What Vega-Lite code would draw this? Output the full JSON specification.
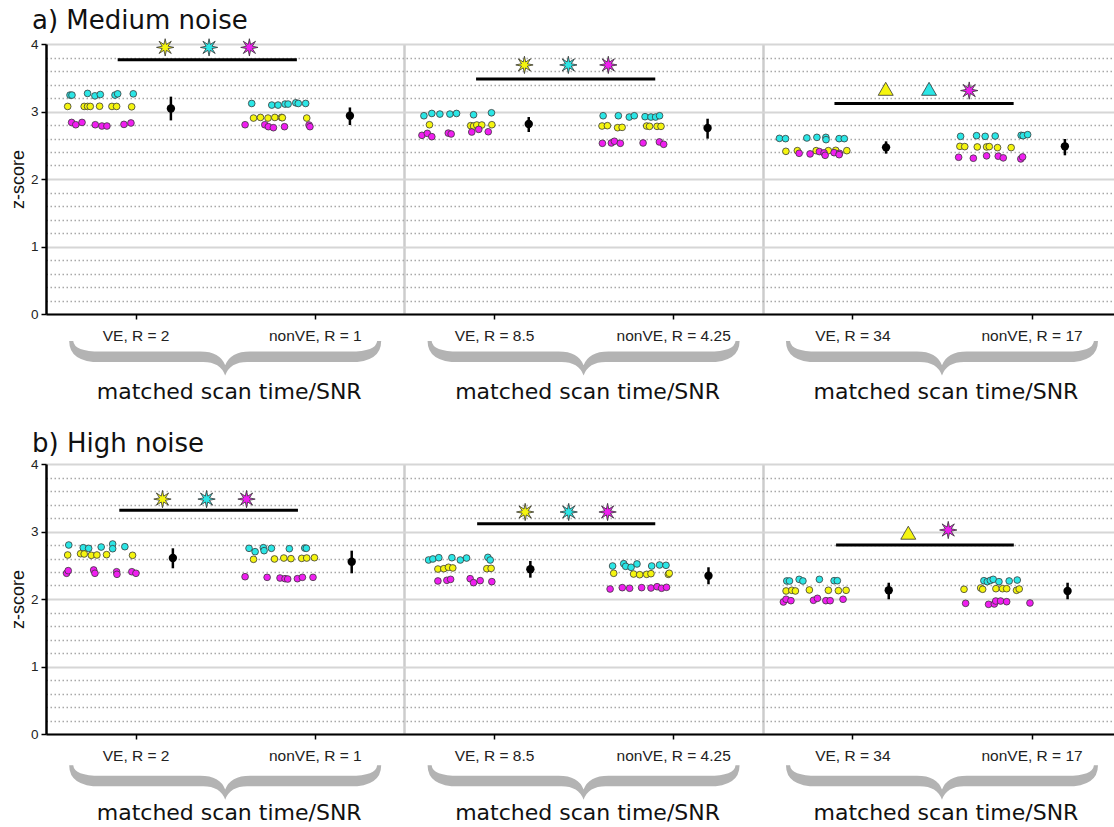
{
  "$schema": "https://vega.github.io/schema/vega-lite/v6.json",
  "background": "white",
  "padding": {"left": 9, "top": 8, "right": 0, "bottom": 1},
  "bounds": "flush",
  "spacing": 150,
  "config": {"view": {"stroke": null}, "font": "Liberation Sans"},
  "datasets": {
    "ptsA": [
      {"x":0.134,"z":3.243,"c":"cyan"},{"x":0.145,"z":3.243,"c":"cyan"},{"x":0.232,"z":3.268,"c":"cyan"},{"x":0.273,"z":3.232,"c":"cyan"},{"x":0.303,"z":3.252,"c":"cyan"},{"x":0.385,"z":3.243,"c":"cyan"},{"x":0.4,"z":3.262,"c":"cyan"},{"x":0.487,"z":3.262,"c":"cyan"},
      {"x":0.121,"z":3.075,"c":"yellow"},{"x":0.213,"z":3.075,"c":"yellow"},{"x":0.232,"z":3.075,"c":"yellow"},{"x":0.247,"z":3.075,"c":"yellow"},{"x":0.299,"z":3.078,"c":"yellow"},{"x":0.368,"z":3.075,"c":"yellow"},{"x":0.394,"z":3.075,"c":"yellow"},{"x":0.478,"z":3.07,"c":"yellow"},
      {"x":0.143,"z":2.838,"c":"magenta"},{"x":0.166,"z":2.804,"c":"magenta"},{"x":0.201,"z":2.838,"c":"magenta"},{"x":0.275,"z":2.804,"c":"magenta"},{"x":0.312,"z":2.785,"c":"magenta"},{"x":0.34,"z":2.785,"c":"magenta"},{"x":0.435,"z":2.809,"c":"magenta"},{"x":0.474,"z":2.83,"c":"magenta"},
      {"x":1.148,"z":3.119,"c":"cyan"},{"x":1.26,"z":3.095,"c":"cyan"},{"x":1.295,"z":3.095,"c":"cyan"},{"x":1.334,"z":3.11,"c":"cyan"},{"x":1.351,"z":3.11,"c":"cyan"},{"x":1.394,"z":3.129,"c":"cyan"},{"x":1.408,"z":3.119,"c":"cyan"},{"x":1.449,"z":3.119,"c":"cyan"},
      {"x":1.158,"z":2.903,"c":"yellow"},{"x":1.197,"z":2.912,"c":"yellow"},{"x":1.239,"z":2.903,"c":"yellow"},{"x":1.277,"z":2.912,"c":"yellow"},{"x":1.314,"z":2.912,"c":"yellow"},{"x":1.319,"z":2.908,"c":"yellow"},{"x":1.455,"z":2.903,"c":"yellow"},
      {"x":1.111,"z":2.804,"c":"magenta"},{"x":1.221,"z":2.804,"c":"magenta"},{"x":1.241,"z":2.775,"c":"magenta"},{"x":1.269,"z":2.76,"c":"magenta"},{"x":1.331,"z":2.775,"c":"magenta"},{"x":1.468,"z":2.8,"c":"magenta"},{"x":1.473,"z":2.775,"c":"magenta"},
      {"x":2.109,"z":2.937,"c":"cyan"},{"x":2.153,"z":2.971,"c":"cyan"},{"x":2.198,"z":2.962,"c":"cyan"},{"x":2.254,"z":2.962,"c":"cyan"},{"x":2.291,"z":2.971,"c":"cyan"},{"x":2.386,"z":2.952,"c":"cyan"},{"x":2.486,"z":2.981,"c":"cyan"},
      {"x":2.14,"z":2.804,"c":"yellow"},{"x":2.37,"z":2.79,"c":"yellow"},{"x":2.386,"z":2.785,"c":"yellow"},{"x":2.404,"z":2.8,"c":"yellow"},{"x":2.432,"z":2.8,"c":"yellow"},{"x":2.488,"z":2.804,"c":"yellow"},
      {"x":2.098,"z":2.647,"c":"magenta"},{"x":2.128,"z":2.676,"c":"magenta"},{"x":2.153,"z":2.627,"c":"magenta"},{"x":2.245,"z":2.68,"c":"magenta"},{"x":2.261,"z":2.667,"c":"magenta"},{"x":2.376,"z":2.696,"c":"magenta"},{"x":2.415,"z":2.735,"c":"magenta"},{"x":2.468,"z":2.7,"c":"magenta"},
      {"x":3.109,"z":2.937,"c":"cyan"},{"x":3.194,"z":2.937,"c":"cyan"},{"x":3.255,"z":2.918,"c":"cyan"},{"x":3.283,"z":2.937,"c":"cyan"},{"x":3.343,"z":2.923,"c":"cyan"},{"x":3.376,"z":2.918,"c":"cyan"},{"x":3.402,"z":2.918,"c":"cyan"},{"x":3.424,"z":2.937,"c":"cyan"},
      {"x":3.103,"z":2.785,"c":"yellow"},{"x":3.133,"z":2.79,"c":"yellow"},{"x":3.19,"z":2.76,"c":"yellow"},{"x":3.215,"z":2.765,"c":"yellow"},{"x":3.352,"z":2.785,"c":"yellow"},{"x":3.368,"z":2.78,"c":"yellow"},{"x":3.41,"z":2.78,"c":"yellow"},{"x":3.432,"z":2.78,"c":"yellow"},
      {"x":3.105,"z":2.529,"c":"magenta"},{"x":3.155,"z":2.534,"c":"magenta"},{"x":3.172,"z":2.559,"c":"magenta"},{"x":3.205,"z":2.529,"c":"magenta"},{"x":3.332,"z":2.534,"c":"magenta"},{"x":3.423,"z":2.549,"c":"magenta"},{"x":3.447,"z":2.514,"c":"magenta"},
      {"x":4.093,"z":2.602,"c":"cyan"},{"x":4.127,"z":2.598,"c":"cyan"},{"x":4.246,"z":2.608,"c":"cyan"},{"x":4.302,"z":2.617,"c":"cyan"},{"x":4.352,"z":2.617,"c":"cyan"},{"x":4.353,"z":2.583,"c":"cyan"},{"x":4.426,"z":2.598,"c":"cyan"},{"x":4.455,"z":2.598,"c":"cyan"},
      {"x":4.129,"z":2.41,"c":"yellow"},{"x":4.193,"z":2.42,"c":"yellow"},{"x":4.298,"z":2.42,"c":"yellow"},{"x":4.366,"z":2.42,"c":"yellow"},{"x":4.407,"z":2.425,"c":"yellow"},{"x":4.469,"z":2.42,"c":"yellow"},
      {"x":4.203,"z":2.381,"c":"magenta"},{"x":4.264,"z":2.372,"c":"magenta"},{"x":4.316,"z":2.406,"c":"magenta"},{"x":4.342,"z":2.387,"c":"magenta"},{"x":4.348,"z":2.351,"c":"magenta"},{"x":4.398,"z":2.39,"c":"magenta"},{"x":4.428,"z":2.38,"c":"magenta"},{"x":4.426,"z":2.36,"c":"magenta"},
      {"x":5.104,"z":2.632,"c":"cyan"},{"x":5.193,"z":2.642,"c":"cyan"},{"x":5.241,"z":2.632,"c":"cyan"},{"x":5.297,"z":2.637,"c":"cyan"},{"x":5.442,"z":2.647,"c":"cyan"},{"x":5.453,"z":2.642,"c":"cyan"},{"x":5.478,"z":2.657,"c":"cyan"},
      {"x":5.1,"z":2.484,"c":"yellow"},{"x":5.127,"z":2.48,"c":"yellow"},{"x":5.197,"z":2.475,"c":"yellow"},{"x":5.249,"z":2.475,"c":"yellow"},{"x":5.264,"z":2.48,"c":"yellow"},{"x":5.31,"z":2.465,"c":"yellow"},{"x":5.386,"z":2.465,"c":"yellow"},
      {"x":5.093,"z":2.322,"c":"magenta"},{"x":5.175,"z":2.308,"c":"magenta"},{"x":5.249,"z":2.343,"c":"magenta"},{"x":5.314,"z":2.338,"c":"magenta"},{"x":5.342,"z":2.313,"c":"magenta"},{"x":5.44,"z":2.298,"c":"magenta"},{"x":5.45,"z":2.327,"c":"magenta"}
    ],
    "ptsB": [
      {"x":0.127,"z":2.8,"c":"cyan"},{"x":0.208,"z":2.76,"c":"cyan"},{"x":0.238,"z":2.75,"c":"cyan"},{"x":0.308,"z":2.77,"c":"cyan"},{"x":0.372,"z":2.815,"c":"cyan"},{"x":0.372,"z":2.745,"c":"cyan"},{"x":0.44,"z":2.775,"c":"cyan"},
      {"x":0.121,"z":2.652,"c":"yellow"},{"x":0.193,"z":2.671,"c":"yellow"},{"x":0.213,"z":2.667,"c":"yellow"},{"x":0.253,"z":2.647,"c":"yellow"},{"x":0.284,"z":2.652,"c":"yellow"},{"x":0.338,"z":2.657,"c":"yellow"},{"x":0.483,"z":2.647,"c":"yellow"},
      {"x":0.115,"z":2.381,"c":"magenta"},{"x":0.124,"z":2.42,"c":"magenta"},{"x":0.266,"z":2.43,"c":"magenta"},{"x":0.273,"z":2.381,"c":"magenta"},{"x":0.394,"z":2.404,"c":"magenta"},{"x":0.396,"z":2.366,"c":"magenta"},{"x":0.479,"z":2.404,"c":"magenta"},{"x":0.502,"z":2.381,"c":"magenta"},
      {"x":1.133,"z":2.751,"c":"cyan"},{"x":1.167,"z":2.701,"c":"cyan"},{"x":1.213,"z":2.76,"c":"cyan"},{"x":1.217,"z":2.716,"c":"cyan"},{"x":1.258,"z":2.751,"c":"cyan"},{"x":1.358,"z":2.745,"c":"cyan"},{"x":1.444,"z":2.755,"c":"cyan"},{"x":1.453,"z":2.751,"c":"cyan"},
      {"x":1.158,"z":2.588,"c":"yellow"},{"x":1.275,"z":2.593,"c":"yellow"},{"x":1.327,"z":2.607,"c":"yellow"},{"x":1.367,"z":2.598,"c":"yellow"},{"x":1.427,"z":2.602,"c":"yellow"},{"x":1.455,"z":2.607,"c":"yellow"},{"x":1.498,"z":2.612,"c":"yellow"},
      {"x":1.111,"z":2.33,"c":"magenta"},{"x":1.234,"z":2.321,"c":"magenta"},{"x":1.306,"z":2.311,"c":"magenta"},{"x":1.334,"z":2.301,"c":"magenta"},{"x":1.349,"z":2.296,"c":"magenta"},{"x":1.403,"z":2.301,"c":"magenta"},{"x":1.431,"z":2.321,"c":"magenta"},{"x":1.49,"z":2.321,"c":"magenta"},
      {"x":2.135,"z":2.578,"c":"cyan"},{"x":2.159,"z":2.593,"c":"cyan"},{"x":2.192,"z":2.612,"c":"cyan"},{"x":2.265,"z":2.612,"c":"cyan"},{"x":2.312,"z":2.578,"c":"cyan"},{"x":2.347,"z":2.607,"c":"cyan"},{"x":2.466,"z":2.617,"c":"cyan"},{"x":2.479,"z":2.578,"c":"cyan"},
      {"x":2.187,"z":2.444,"c":"yellow"},{"x":2.22,"z":2.449,"c":"yellow"},{"x":2.246,"z":2.47,"c":"yellow"},{"x":2.27,"z":2.46,"c":"yellow"},{"x":2.46,"z":2.449,"c":"yellow"},{"x":2.484,"z":2.454,"c":"yellow"},
      {"x":2.187,"z":2.267,"c":"magenta"},{"x":2.237,"z":2.277,"c":"magenta"},{"x":2.258,"z":2.291,"c":"magenta"},{"x":2.367,"z":2.301,"c":"magenta"},{"x":2.386,"z":2.242,"c":"magenta"},{"x":2.423,"z":2.272,"c":"magenta"},{"x":2.488,"z":2.257,"c":"magenta"},
      {"x":3.162,"z":2.489,"c":"cyan"},{"x":3.224,"z":2.523,"c":"cyan"},{"x":3.235,"z":2.484,"c":"cyan"},{"x":3.265,"z":2.47,"c":"cyan"},{"x":3.298,"z":2.519,"c":"cyan"},{"x":3.38,"z":2.489,"c":"cyan"},{"x":3.424,"z":2.504,"c":"cyan"},{"x":3.46,"z":2.499,"c":"cyan"},
      {"x":3.168,"z":2.381,"c":"yellow"},{"x":3.279,"z":2.37,"c":"yellow"},{"x":3.313,"z":2.36,"c":"yellow"},{"x":3.352,"z":2.365,"c":"yellow"},{"x":3.376,"z":2.375,"c":"yellow"},{"x":3.473,"z":2.365,"c":"yellow"},{"x":3.478,"z":2.381,"c":"yellow"},
      {"x":3.148,"z":2.148,"c":"magenta"},{"x":3.216,"z":2.168,"c":"magenta"},{"x":3.257,"z":2.159,"c":"magenta"},{"x":3.324,"z":2.168,"c":"magenta"},{"x":3.376,"z":2.163,"c":"magenta"},{"x":3.41,"z":2.182,"c":"magenta"},{"x":3.435,"z":2.159,"c":"magenta"},{"x":3.463,"z":2.173,"c":"magenta"},
      {"x":4.134,"z":2.267,"c":"cyan"},{"x":4.149,"z":2.267,"c":"cyan"},{"x":4.203,"z":2.291,"c":"cyan"},{"x":4.224,"z":2.267,"c":"cyan"},{"x":4.316,"z":2.291,"c":"cyan"},{"x":4.398,"z":2.271,"c":"cyan"},{"x":4.416,"z":2.271,"c":"cyan"},
      {"x":4.13,"z":2.119,"c":"yellow"},{"x":4.162,"z":2.129,"c":"yellow"},{"x":4.182,"z":2.119,"c":"yellow"},{"x":4.26,"z":2.134,"c":"yellow"},{"x":4.366,"z":2.129,"c":"yellow"},{"x":4.422,"z":2.124,"c":"yellow"},{"x":4.465,"z":2.129,"c":"yellow"},
      {"x":4.115,"z":1.956,"c":"magenta"},{"x":4.13,"z":1.996,"c":"magenta"},{"x":4.157,"z":1.975,"c":"magenta"},{"x":4.283,"z":1.981,"c":"magenta"},{"x":4.305,"z":2.01,"c":"magenta"},{"x":4.352,"z":1.975,"c":"magenta"},{"x":4.376,"z":1.975,"c":"magenta"},{"x":4.448,"z":1.996,"c":"magenta"},
      {"x":5.234,"z":2.271,"c":"cyan"},{"x":5.253,"z":2.257,"c":"cyan"},{"x":5.27,"z":2.275,"c":"cyan"},{"x":5.286,"z":2.291,"c":"cyan"},{"x":5.318,"z":2.257,"c":"cyan"},{"x":5.375,"z":2.267,"c":"cyan"},{"x":5.42,"z":2.281,"c":"cyan"},
      {"x":5.123,"z":2.144,"c":"yellow"},{"x":5.216,"z":2.163,"c":"yellow"},{"x":5.227,"z":2.144,"c":"yellow"},{"x":5.301,"z":2.153,"c":"yellow"},{"x":5.338,"z":2.153,"c":"yellow"},{"x":5.361,"z":2.153,"c":"yellow"},{"x":5.416,"z":2.129,"c":"yellow"},{"x":5.431,"z":2.148,"c":"yellow"},
      {"x":5.132,"z":1.936,"c":"magenta"},{"x":5.26,"z":1.921,"c":"magenta"},{"x":5.292,"z":1.926,"c":"magenta"},{"x":5.3,"z":1.97,"c":"magenta"},{"x":5.327,"z":1.97,"c":"magenta"},{"x":5.361,"z":1.96,"c":"magenta"},{"x":5.491,"z":1.941,"c":"magenta"}
    ],
    "meanA": [
      {"x":0.697,"z":3.045,"lo":2.868,"hi":3.22},{"x":1.696,"z":2.937,"lo":2.8,"hi":3.06},
      {"x":2.694,"z":2.815,"lo":2.696,"hi":2.918},{"x":3.692,"z":2.755,"lo":2.598,"hi":2.893},
      {"x":4.688,"z":2.469,"lo":2.376,"hi":2.558},{"x":5.686,"z":2.484,"lo":2.351,"hi":2.593}
    ],
    "meanB": [
      {"x":0.708,"z":2.607,"lo":2.455,"hi":2.751},{"x":1.706,"z":2.553,"lo":2.381,"hi":2.716},
      {"x":2.703,"z":2.44,"lo":2.316,"hi":2.563},{"x":3.697,"z":2.345,"lo":2.218,"hi":2.47},
      {"x":4.703,"z":2.129,"lo":1.996,"hi":2.241},{"x":5.701,"z":2.119,"lo":1.996,"hi":2.241}
    ],
    "sigA": [{"x":0.4,"x2":1.4,"z":3.768},{"x":2.4,"x2":3.4,"z":3.483},{"x":4.4,"x2":5.4,"z":3.119}],
    "sigB": [{"x":0.409,"x2":1.406,"z":3.314},{"x":2.406,"x2":3.4,"z":3.116},{"x":4.409,"x2":5.401,"z":2.8}],
    "symA": [
      {"x":0.665,"z":3.95,"c":"yellow","s":"star"},{"x":0.91,"z":3.95,"c":"cyan","s":"star"},{"x":1.135,"z":3.95,"c":"magenta","s":"star"},
      {"x":2.67,"z":3.69,"c":"yellow","s":"star"},{"x":2.915,"z":3.69,"c":"cyan","s":"star"},{"x":3.138,"z":3.69,"c":"magenta","s":"star"},
      {"x":4.686,"z":3.336,"c":"yellow","s":"tri"},{"x":4.928,"z":3.336,"c":"cyan","s":"tri"},{"x":5.152,"z":3.31,"c":"magenta","s":"star"}
    ],
    "symB": [
      {"x":0.65,"z":3.48,"c":"yellow","s":"star"},{"x":0.896,"z":3.48,"c":"cyan","s":"star"},{"x":1.119,"z":3.48,"c":"magenta","s":"star"},
      {"x":2.674,"z":3.289,"c":"yellow","s":"star"},{"x":2.917,"z":3.289,"c":"cyan","s":"star"},{"x":3.134,"z":3.289,"c":"magenta","s":"star"},
      {"x":4.812,"z":2.982,"c":"yellow","s":"tri"},{"x":5.035,"z":3.022,"c":"magenta","s":"star"}
    ],
    "braces": [
      {"x":1,"label":"matched scan time/SNR"},{"x":3,"label":"matched scan time/SNR"},{"x":5,"label":"matched scan time/SNR"}
    ]
  },
  "vconcat": [
    {
      "width": 1068, "height": 270,
      "title": {"text": "a) Medium noise", "anchor": "start", "frame": "group", "font": "DejaVu Sans", "fontSize": 26, "fontWeight": "normal", "color": "#111", "dx": -14, "baseline": "alphabetic", "offset": -18},
      "layer": [
        {
          "data": {"name": "ptsA"},
          "mark": {"type": "circle", "size": 45, "stroke": "#3a3a3a", "strokeWidth": 0.8, "opacity": 1},
          "encoding": {
            "x": {"field": "x", "type": "quantitative", "scale": {"domain": [0, 5.96], "nice": false, "zero": false},
              "axis": {"values": [0.5, 1.5, 2, 2.5, 3.5, 4, 4.5, 5.5], "tickCount": 100, "title": null,
                "labelExpr": "datum.value == 0.5 ? 'VE, R = 2' : datum.value == 1.5 ? 'nonVE, R = 1' : datum.value == 2.5 ? 'VE, R = 8.5' : datum.value == 3.5 ? 'nonVE, R = 4.25' : datum.value == 4.5 ? 'VE, R = 34' : datum.value == 5.5 ? 'nonVE, R = 17' : ''",
                "grid": true, "gridColor": "#cccccc", "gridWidth": 2.5,
                "gridOpacity": {"condition": {"test": "datum.value % 2 === 0", "value": 1}, "value": 0},
                "tickOpacity": {"condition": {"test": "datum.value % 1 === 0", "value": 0}, "value": 1},
                "tickColor": "black", "tickSize": 5, "tickWidth": 1.5, "domainColor": "black", "domainWidth": 2,
                "labelFont": "Liberation Sans", "labelFontSize": 15.5, "labelColor": "#222", "labelPadding": 9,
                "labelFlush": false, "labelOverlap": false, "labelBound": false}},
            "y": {"field": "z", "type": "quantitative", "scale": {"domain": [0, 4], "nice": false, "zero": false},
              "axis": {"values": [0,0.2,0.4,0.6,0.8,1,1.2,1.4,1.6,1.8,2,2.2,2.4,2.6,2.8,3,3.2,3.4,3.6,3.8,4], "tickCount": 100,
                "title": "z-score", "titleFont": "Liberation Sans", "titleFontSize": 18, "titleFontWeight": "normal", "titleColor": "#111", "titlePadding": 3,
                "labelExpr": "abs(datum.value - round(datum.value)) < 0.001 ? format(datum.value, 'd') : ''",
                "grid": true,
                "gridColor": {"condition": {"test": "abs(datum.value - round(datum.value)) < 0.001", "value": "#d6d6d6"}, "value": "#a8a8a8"},
                "gridDash": {"condition": {"test": "abs(datum.value - round(datum.value)) < 0.001", "value": []}, "value": [1.5, 2.5]},
                "gridWidth": {"condition": {"test": "abs(datum.value - round(datum.value)) < 0.001", "value": 2.2}, "value": 1.6},
                "tickOpacity": {"condition": {"test": "abs(datum.value - round(datum.value)) < 0.001", "value": 1}, "value": 0},
                "tickColor": "black", "tickSize": 5, "tickWidth": 1.5, "domainColor": "black", "domainWidth": 2.5,
                "labelFont": "Liberation Sans", "labelFontSize": 13.5, "labelColor": "#222", "labelPadding": 3,
                "labelFlush": false, "labelOverlap": false}},
            "fill": {"field": "c", "type": "nominal", "scale": {"domain": ["cyan", "yellow", "magenta"], "range": ["#2BE6E6", "#F5F50F", "#F01EF0"]}, "legend": null}
          }
        },
        {
          "data": {"name": "meanA"},
          "mark": {"type": "rule", "color": "black", "strokeWidth": 2.5},
          "encoding": {"x": {"field": "x", "type": "quantitative"}, "y": {"field": "lo", "type": "quantitative"}, "y2": {"field": "hi"}}
        },
        {
          "data": {"name": "meanA"},
          "mark": {"type": "circle", "color": "black", "size": 70, "opacity": 1},
          "encoding": {"x": {"field": "x", "type": "quantitative"}, "y": {"field": "z", "type": "quantitative"}}
        },
        {
          "data": {"name": "sigA"},
          "mark": {"type": "rule", "color": "black", "strokeWidth": 3},
          "encoding": {"x": {"field": "x", "type": "quantitative"}, "x2": {"field": "x2"}, "y": {"field": "z", "type": "quantitative"}}
        },
        {
          "data": {"name": "symA"},
          "mark": {"type": "point", "filled": true, "size": 300, "stroke": "#333", "strokeWidth": 0.8, "opacity": 1},
          "encoding": {
            "x": {"field": "x", "type": "quantitative"}, "y": {"field": "z", "type": "quantitative"},
            "fill": {"field": "c", "type": "nominal", "scale": {"domain": ["cyan", "yellow", "magenta"], "range": ["#2BE6E6", "#F5F50F", "#F01EF0"]}, "legend": null},
            "shape": {"field": "s", "type": "nominal", "scale": {"domain": ["star", "tri"], "range": ["M0,-1L0.14,-0.34L0.707,-0.707L0.34,-0.14L1,0L0.34,0.14L0.707,0.707L0.14,0.34L0,1L-0.14,0.34L-0.707,0.707L-0.34,0.14L-1,0L-0.34,-0.14L-0.707,-0.707L-0.14,-0.34Z", "M0,-0.75L0.866,0.75L-0.866,0.75Z"]}, "legend": null}
          }
        },
        {
          "data": {"name": "braces"},
          "mark": {"type": "point", "filled": true, "color": "#b3b3b3", "opacity": 1, "size": 97344, "strokeWidth": 0,
            "shape": "M-1,-0.112Q-1,0.024,-0.8,0.024L-0.141,0.024Q-0.032,0.024,0,0.11Q0.032,0.024,0.141,0.024L0.8,0.024Q1,0.024,1,-0.112L0.974,-0.112Q0.968,-0.044,0.8,-0.044L0.16,-0.044Q0.032,-0.044,0,0.045Q-0.032,-0.044,-0.16,-0.044L-0.8,-0.044Q-0.968,-0.044,-0.974,-0.112Z"},
          "encoding": {"x": {"field": "x", "type": "quantitative"}, "y": {"datum": -0.657, "type": "quantitative"}}
        },
        {
          "data": {"name": "braces"},
          "mark": {"type": "text", "font": "DejaVu Sans", "fontSize": 22, "baseline": "alphabetic", "dx": 4, "color": "#111"},
          "encoding": {"x": {"field": "x", "type": "quantitative"}, "y": {"datum": -1.255, "type": "quantitative"}, "text": {"field": "label"}}
        }
      ]
    },
    {
      "width": 1068, "height": 270,
      "title": {"text": "b) High noise", "anchor": "start", "frame": "group", "font": "DejaVu Sans", "fontSize": 26, "fontWeight": "normal", "color": "#111", "dx": -14, "baseline": "alphabetic", "offset": -20.5},
      "layer": [
        {
          "data": {"name": "ptsB"},
          "mark": {"type": "circle", "size": 45, "stroke": "#3a3a3a", "strokeWidth": 0.8, "opacity": 1},
          "encoding": {
            "x": {"field": "x", "type": "quantitative", "scale": {"domain": [0, 5.96], "nice": false, "zero": false},
              "axis": {"values": [0.5, 1.5, 2, 2.5, 3.5, 4, 4.5, 5.5], "tickCount": 100, "title": null,
                "labelExpr": "datum.value == 0.5 ? 'VE, R = 2' : datum.value == 1.5 ? 'nonVE, R = 1' : datum.value == 2.5 ? 'VE, R = 8.5' : datum.value == 3.5 ? 'nonVE, R = 4.25' : datum.value == 4.5 ? 'VE, R = 34' : datum.value == 5.5 ? 'nonVE, R = 17' : ''",
                "grid": true, "gridColor": "#cccccc", "gridWidth": 2.5,
                "gridOpacity": {"condition": {"test": "datum.value % 2 === 0", "value": 1}, "value": 0},
                "tickOpacity": {"condition": {"test": "datum.value % 1 === 0", "value": 0}, "value": 1},
                "tickColor": "black", "tickSize": 5, "tickWidth": 1.5, "domainColor": "black", "domainWidth": 2,
                "labelFont": "Liberation Sans", "labelFontSize": 15.5, "labelColor": "#222", "labelPadding": 9,
                "labelFlush": false, "labelOverlap": false, "labelBound": false}},
            "y": {"field": "z", "type": "quantitative", "scale": {"domain": [0, 4], "nice": false, "zero": false},
              "axis": {"values": [0,0.2,0.4,0.6,0.8,1,1.2,1.4,1.6,1.8,2,2.2,2.4,2.6,2.8,3,3.2,3.4,3.6,3.8,4], "tickCount": 100,
                "title": "z-score", "titleFont": "Liberation Sans", "titleFontSize": 18, "titleFontWeight": "normal", "titleColor": "#111", "titlePadding": 3,
                "labelExpr": "abs(datum.value - round(datum.value)) < 0.001 ? format(datum.value, 'd') : ''",
                "grid": true,
                "gridColor": {"condition": {"test": "abs(datum.value - round(datum.value)) < 0.001", "value": "#d6d6d6"}, "value": "#a8a8a8"},
                "gridDash": {"condition": {"test": "abs(datum.value - round(datum.value)) < 0.001", "value": []}, "value": [1.5, 2.5]},
                "gridWidth": {"condition": {"test": "abs(datum.value - round(datum.value)) < 0.001", "value": 2.2}, "value": 1.6},
                "tickOpacity": {"condition": {"test": "abs(datum.value - round(datum.value)) < 0.001", "value": 1}, "value": 0},
                "tickColor": "black", "tickSize": 5, "tickWidth": 1.5, "domainColor": "black", "domainWidth": 2.5,
                "labelFont": "Liberation Sans", "labelFontSize": 13.5, "labelColor": "#222", "labelPadding": 3,
                "labelFlush": false, "labelOverlap": false}},
            "fill": {"field": "c", "type": "nominal", "scale": {"domain": ["cyan", "yellow", "magenta"], "range": ["#2BE6E6", "#F5F50F", "#F01EF0"]}, "legend": null}
          }
        },
        {
          "data": {"name": "meanB"},
          "mark": {"type": "rule", "color": "black", "strokeWidth": 2.5},
          "encoding": {"x": {"field": "x", "type": "quantitative"}, "y": {"field": "lo", "type": "quantitative"}, "y2": {"field": "hi"}}
        },
        {
          "data": {"name": "meanB"},
          "mark": {"type": "circle", "color": "black", "size": 70, "opacity": 1},
          "encoding": {"x": {"field": "x", "type": "quantitative"}, "y": {"field": "z", "type": "quantitative"}}
        },
        {
          "data": {"name": "sigB"},
          "mark": {"type": "rule", "color": "black", "strokeWidth": 3},
          "encoding": {"x": {"field": "x", "type": "quantitative"}, "x2": {"field": "x2"}, "y": {"field": "z", "type": "quantitative"}}
        },
        {
          "data": {"name": "symB"},
          "mark": {"type": "point", "filled": true, "size": 300, "stroke": "#333", "strokeWidth": 0.8, "opacity": 1},
          "encoding": {
            "x": {"field": "x", "type": "quantitative"}, "y": {"field": "z", "type": "quantitative"},
            "fill": {"field": "c", "type": "nominal", "scale": {"domain": ["cyan", "yellow", "magenta"], "range": ["#2BE6E6", "#F5F50F", "#F01EF0"]}, "legend": null},
            "shape": {"field": "s", "type": "nominal", "scale": {"domain": ["star", "tri"], "range": ["M0,-1L0.14,-0.34L0.707,-0.707L0.34,-0.14L1,0L0.34,0.14L0.707,0.707L0.14,0.34L0,1L-0.14,0.34L-0.707,0.707L-0.34,0.14L-1,0L-0.34,-0.14L-0.707,-0.707L-0.14,-0.34Z", "M0,-0.75L0.866,0.75L-0.866,0.75Z"]}, "legend": null}
          }
        },
        {
          "data": {"name": "braces"},
          "mark": {"type": "point", "filled": true, "color": "#b3b3b3", "opacity": 1, "size": 97344, "strokeWidth": 0,
            "shape": "M-1,-0.112Q-1,0.024,-0.8,0.024L-0.141,0.024Q-0.032,0.024,0,0.11Q0.032,0.024,0.141,0.024L0.8,0.024Q1,0.024,1,-0.112L0.974,-0.112Q0.968,-0.044,0.8,-0.044L0.16,-0.044Q0.032,-0.044,0,0.045Q-0.032,-0.044,-0.16,-0.044L-0.8,-0.044Q-0.968,-0.044,-0.974,-0.112Z"},
          "encoding": {"x": {"field": "x", "type": "quantitative"}, "y": {"datum": -0.72, "type": "quantitative"}}
        },
        {
          "data": {"name": "braces"},
          "mark": {"type": "text", "font": "DejaVu Sans", "fontSize": 22, "baseline": "alphabetic", "dx": 4, "color": "#111"},
          "encoding": {"x": {"field": "x", "type": "quantitative"}, "y": {"datum": -1.27, "type": "quantitative"}, "text": {"field": "label"}}
        }
      ]
    }
  ]
}
